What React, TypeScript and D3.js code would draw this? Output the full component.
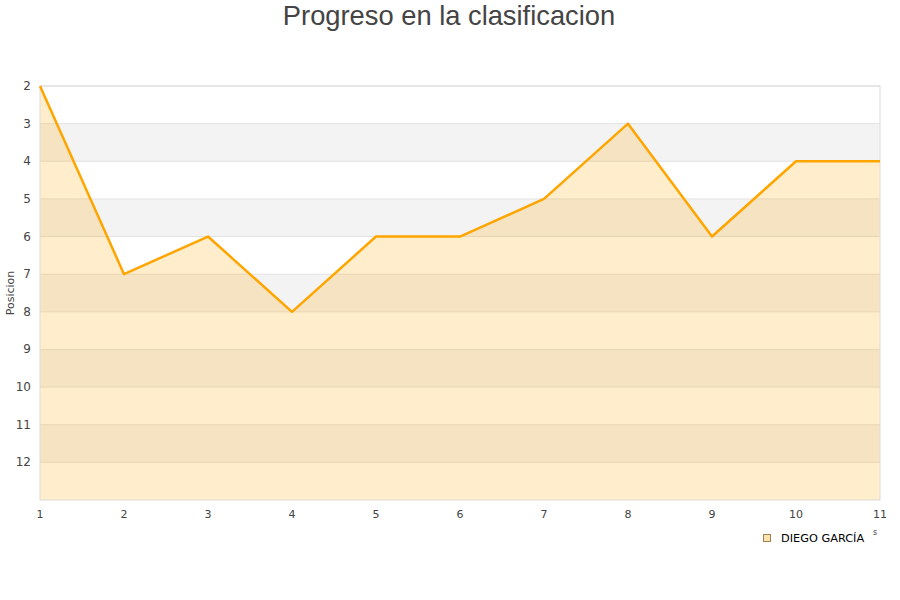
import React from "react";
import * as d3 from "d3";

const title = "Progreso en la clasificacion";
const yTitle = "Posicion";
const seriesName = "DIEGO GARCÍA";
const jornadas = [1, 2, 3, 4, 5, 6, 7, 8, 9, 10, 11];
const posiciones = [2, 7, 6, 8, 6, 6, 5, 3, 6, 4, 4];
const yTicks = [2, 3, 4, 5, 6, 7, 8, 9, 10, 11, 12];

export default function App() {
  const W = 900, H = 600;
  const left = 40, right = 880, top = 86, bottom = 500;
  const x = d3.scaleLinear().domain([1, 11]).range([left, right]);
  const y = d3.scaleLinear().domain([2, 13]).range([top, bottom]);
  const bands = d3.range(2, 13);
  const line = d3.line<number>().x((_, i) => x(jornadas[i])).y((d) => y(d));
  const area = d3
    .area<number>()
    .x((_, i) => x(jornadas[i]))
    .y0(bottom)
    .y1((d) => y(d));
  const font = "DejaVu Sans, sans-serif";
  return (
    <svg width={W} height={H} style={{ position: "absolute", left: 0, top: 0 }}>
      <rect width={W} height={H} fill="#fff" />
      <text x={449} y={25} textAnchor="middle" fontFamily="Liberation Sans, Arial, sans-serif" fontSize={27.3} fill="#444">
        {title}
      </text>
      {bands.map((b) => (
        <rect key={b} x={left} y={y(b)} width={right - left} height={y(b + 1) - y(b)} fill={b % 2 === 1 ? "#f3f3f3" : "#fff"} />
      ))}
      {bands.map((b) => (
        <line key={"g" + b} x1={left} x2={right} y1={y(b)} y2={y(b)} stroke="#e2e2e2" strokeWidth={1} />
      ))}
      <path d={area(posiciones) || ""} fill="#ffa500" fillOpacity={0.2} />
      <rect x={left} y={top} width={right - left} height={bottom - top} fill="none" stroke="#dcdcdc" strokeWidth={1} />
      <path d={line(posiciones) || ""} fill="none" stroke="#ffa500" strokeWidth={2.5} strokeLinejoin="round" />
      {yTicks.map((t) => (
        <text key={"y" + t} x={31} y={y(t) + 4} textAnchor="end" fontFamily={font} fontSize={12} fill="#444">
          {t}
        </text>
      ))}
      {jornadas.map((t) => (
        <text key={"x" + t} x={x(t)} y={518} textAnchor="middle" fontFamily={font} fontSize={11} fill="#444">
          {t}
        </text>
      ))}
      <text transform={`translate(14,${(top + bottom) / 2}) rotate(-90)`} textAnchor="middle" fontFamily={font} fontSize={11} fill="#444">
        {yTitle}
      </text>
      <text x={873} y={535} fontFamily={font} fontSize={8} fill="#444">s</text>
      <rect x={763.5} y={534.5} width={7} height={7} fill="#ffe4b0" stroke="#a08050" strokeWidth={1} />
      <text x={781} y={542} fontFamily={font} fontSize={11.3} fill="#000">
        {seriesName}
      </text>
    </svg>
  );
}
